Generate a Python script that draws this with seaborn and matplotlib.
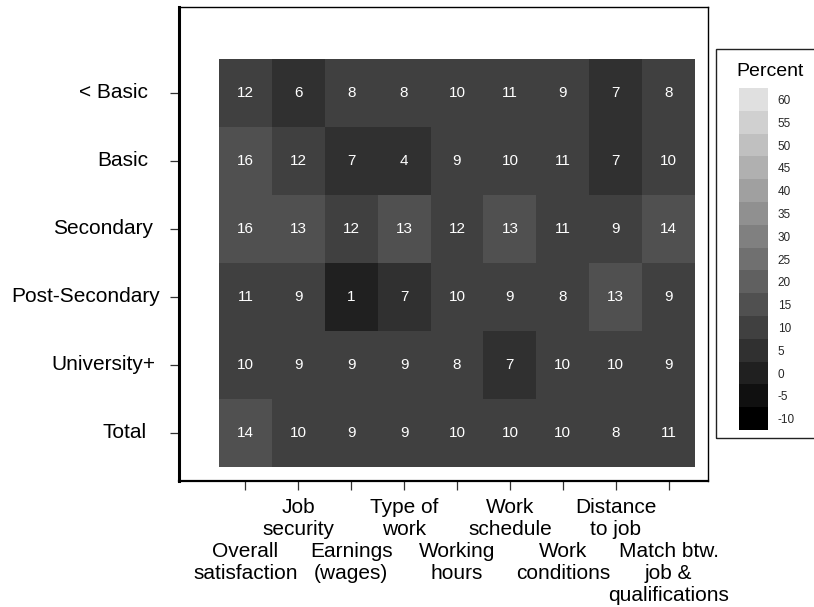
import numpy as np
import pandas as pd
import matplotlib
matplotlib.use("Agg")
import matplotlib.pyplot as plt
from matplotlib.colors import ListedColormap
from matplotlib.patches import Rectangle
from matplotlib import transforms
import seaborn as sns

sns.set_theme(style="white")
plt.rcParams["font.family"] = ["Liberation Sans", "DejaVu Sans"]
plt.rcParams["axes.unicode_minus"] = False

# Share of workers reporting dissatisfaction (%), by education level
education = ["< Basic", "Basic", "Secondary", "Post-Secondary", "University+", "Total"]
aspects = [
    "Overall\nsatisfaction", "Job\nsecurity", "Earnings\n(wages)", "Type of\nwork",
    "Working\nhours", "Work\nschedule", "Work\nconditions", "Distance\nto job",
    "Match btw.\njob &\nqualifications",
]
less_basic = [12, 6, 8, 8, 10, 11, 9, 7, 8]
basic = [16, 12, 7, 4, 9, 10, 11, 7, 10]
secondary = [16, 13, 12, 13, 12, 13, 11, 9, 14]
post_secondary = [11, 9, 1, 7, 10, 9, 8, 13, 9]
university = [10, 9, 9, 9, 8, 7, 10, 10, 9]
total = [14, 10, 9, 9, 10, 10, 10, 8, 11]

legend_levels = list(range(-10, 65, 5))

df = pd.DataFrame(
    [less_basic, basic, secondary, post_secondary, university, total],
    index=education, columns=aspects,
)

# one flat grey per 5-point band, black at the bottom
greys = [(i * 16 / 255,) * 3 for i in range(len(legend_levels))]
cmap = ListedColormap(greys)
vmin = legend_levels[0] - 2.5
vmax = legend_levels[-1] + 2.5

fig = plt.figure(figsize=(8.14, 6.07), dpi=100)
ax = fig.add_axes([0.2199, 0.2076, 0.6499, 0.7809])
cax = fig.add_axes([739 / 814, 1 - 430 / 607, 29 / 814, 342 / 607])

sns.heatmap(
    df, ax=ax, cmap=cmap, vmin=vmin, vmax=vmax, annot=True, fmt="d",
    annot_kws={"color": "white", "fontsize": 11},
    cbar_ax=cax, cbar_kws={"ticks": legend_levels},
)

ax.set_xlim(-0.756, 9.246)
ax.set_ylim(6.206, -0.765)
for side, lw in (("left", 2.2), ("bottom", 1.6), ("top", 1.0), ("right", 1.0)):
    ax.spines[side].set_visible(True)
    ax.spines[side].set_color("black")
    ax.spines[side].set_linewidth(lw)

# x labels staggered on two levels
xlabels = [lab if i % 2 else "\n\n" + lab for i, lab in enumerate(aspects)]
ax.set_xticks(np.arange(len(aspects)) + 0.5)
ax.set_xticklabels(xlabels, rotation=0, fontsize=15, ha="center",
                   multialignment="center", linespacing=1.21)
ax.tick_params(axis="x", bottom=True, length=6.5, width=0.9, pad=5.5,
               color="#333333", labelcolor="black")

ax.set_yticks(np.arange(len(education)) + 0.5)
ax.set_yticklabels([""] * len(education))
ax.tick_params(axis="y", left=True, length=6.5, width=0.9, color="#333333")
ax.set_xlabel("")
ax.set_ylabel("")

# row labels, each with its own right edge
right_edges = [148, 148, 153, 160, 155, 147]
ytrans = ax.get_yaxis_transform()
for lab, yv, xr in zip(education, np.arange(len(education)) + 0.5, right_edges):
    off = transforms.ScaledTranslation((xr - 179) / 100, 0, fig.dpi_scale_trans)
    ax.text(0, yv, lab, transform=ytrans + off, ha="right", va="center",
            fontsize=15, color="black")

# colour key
cbar = ax.collections[0].colorbar
cbar.outline.set_visible(False)
cax.tick_params(length=0, labelsize=8.5, pad=7)

fig.patches.append(Rectangle(
    (716 / 814, 1 - 438 / 607), 110 / 814, 389 / 607,
    transform=fig.transFigure, facecolor="none", edgecolor="#222222",
    linewidth=1.0, clip_on=False, zorder=0,
))
fig.text(770 / 814, 1 - 72 / 607, "Percent", ha="center", va="center",
         fontsize=14, color="black")

fig.savefig("out.png", dpi=100)
